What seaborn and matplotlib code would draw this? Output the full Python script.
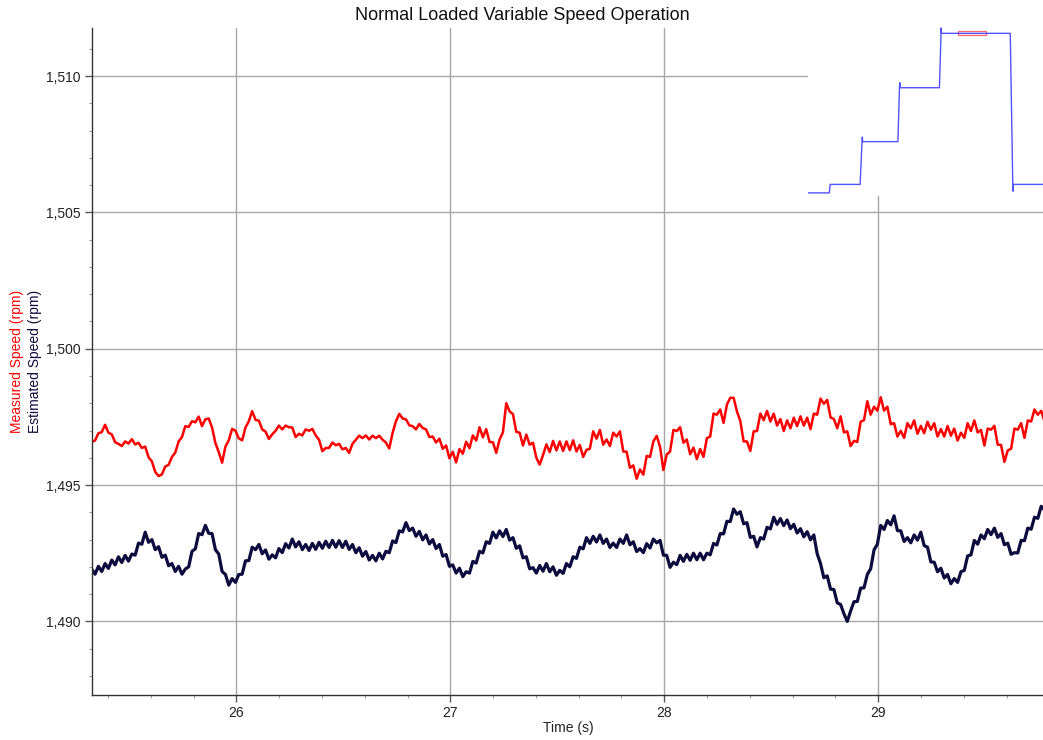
import numpy as np
import pandas as pd
import matplotlib
matplotlib.use("Agg")
import matplotlib.pyplot as plt
from matplotlib.ticker import MultipleLocator, FuncFormatter
from matplotlib.patches import Rectangle
import seaborn as sns

# ---------------- data ----------------
t_start = 25.324          # s, first sample shown
sample_rate = 64.0        # samples per second

measured_speed = [
    1496.59, 1496.63, 1496.90, 1496.94, 1497.21, 1496.92, 1496.86, 1496.57, 1496.51, 1496.43, 1496.60, 1496.52, 1496.68, 1496.49, 1496.55, 1496.36,
    1496.41, 1496.02, 1495.87, 1495.48, 1495.33, 1495.39, 1495.68, 1495.74, 1496.03, 1496.19, 1496.60, 1496.76, 1497.16, 1497.13, 1497.34, 1497.30,
    1497.51, 1497.16, 1497.41, 1497.44, 1497.11, 1496.54, 1496.21, 1495.82, 1496.41, 1496.64, 1497.06, 1496.99, 1496.71, 1496.64, 1497.11, 1497.34,
    1497.71, 1497.39, 1497.36, 1497.04, 1496.96, 1496.69, 1496.86, 1496.99, 1497.18, 1497.04, 1497.18, 1497.12, 1497.11, 1496.76, 1496.88, 1496.82,
    1497.04, 1496.99, 1497.06, 1496.82, 1496.66, 1496.24, 1496.36, 1496.36, 1496.56, 1496.46, 1496.51, 1496.31, 1496.36, 1496.18, 1496.51, 1496.66,
    1496.81, 1496.72, 1496.82, 1496.67, 1496.81, 1496.72, 1496.81, 1496.66, 1496.56, 1496.34, 1496.91, 1497.34, 1497.61, 1497.44, 1497.41, 1497.19,
    1497.16, 1497.04, 1497.24, 1497.09, 1497.04, 1496.76, 1496.78, 1496.56, 1496.70, 1496.33, 1496.45, 1495.98, 1496.22, 1495.83, 1496.32, 1496.15,
    1496.59, 1496.35, 1496.82, 1496.63, 1497.12, 1496.75, 1497.05, 1496.58, 1496.57, 1496.18, 1496.67, 1496.93, 1498.00, 1497.70, 1497.60, 1496.95,
    1496.92, 1496.45, 1496.85, 1496.48, 1496.55, 1496.00, 1495.75, 1496.10, 1496.49, 1496.21, 1496.62, 1496.27, 1496.60, 1496.25, 1496.60, 1496.28,
    1496.64, 1496.23, 1496.47, 1496.03, 1496.29, 1496.33, 1496.97, 1496.70, 1497.02, 1496.48, 1496.67, 1496.43, 1496.92, 1496.78, 1496.97, 1496.23,
    1496.22, 1495.63, 1495.72, 1495.23, 1495.57, 1495.38, 1496.07, 1496.03, 1496.60, 1496.80, 1496.40, 1495.55, 1496.12, 1496.23, 1497.02, 1496.98,
    1497.12, 1496.55, 1496.67, 1496.13, 1496.37, 1495.95, 1496.32, 1496.03, 1496.72, 1496.78, 1497.62, 1497.58, 1497.77, 1497.28, 1497.95, 1498.20,
    1498.20, 1497.70, 1497.35, 1496.60, 1496.60, 1496.25, 1496.97, 1496.98, 1497.62, 1497.38, 1497.72, 1497.33, 1497.62, 1497.18, 1497.42, 1496.98,
    1497.37, 1497.08, 1497.47, 1497.16, 1497.52, 1497.18, 1497.47, 1497.05, 1497.62, 1497.58, 1498.17, 1497.98, 1498.12, 1497.48, 1497.42, 1497.08,
    1497.52, 1496.93, 1496.97, 1496.43, 1496.62, 1496.58, 1497.32, 1497.38, 1498.07, 1497.58, 1497.87, 1497.73, 1498.22, 1497.73, 1497.87, 1497.23,
    1497.27, 1496.78, 1496.99, 1496.73, 1497.27, 1497.08, 1497.37, 1496.88, 1497.17, 1496.90, 1497.32, 1497.03, 1497.27, 1496.78, 1497.05, 1496.78,
    1497.17, 1496.81, 1497.07, 1496.63, 1496.92, 1496.73, 1497.27, 1496.98, 1497.37, 1496.93, 1497.02, 1496.45, 1497.07, 1497.03, 1497.17, 1496.48,
    1496.47, 1495.85, 1496.27, 1496.33, 1497.07, 1497.03, 1497.27, 1496.73, 1497.37, 1497.33, 1497.77, 1497.58, 1497.72, 1497.33,
]

estimated_speed = [
    1491.92, 1491.73, 1492.02, 1491.83, 1492.12, 1491.94, 1492.25, 1492.07, 1492.37, 1492.16, 1492.42, 1492.21, 1492.47, 1492.43, 1492.87, 1492.83,
    1493.27, 1492.90, 1493.00, 1492.63, 1492.74, 1492.35, 1492.43, 1492.04, 1492.12, 1491.83, 1492.02, 1491.73, 1491.92, 1492.00, 1492.57, 1492.66,
    1493.22, 1493.18, 1493.52, 1493.23, 1493.22, 1492.63, 1492.47, 1491.83, 1491.72, 1491.33, 1491.57, 1491.43, 1491.72, 1491.73, 1492.22, 1492.23,
    1492.72, 1492.63, 1492.82, 1492.48, 1492.62, 1492.28, 1492.44, 1492.33, 1492.67, 1492.52, 1492.85, 1492.69, 1493.02, 1492.73, 1492.92, 1492.63,
    1492.82, 1492.60, 1492.86, 1492.64, 1492.90, 1492.68, 1492.94, 1492.71, 1492.97, 1492.72, 1492.96, 1492.71, 1492.94, 1492.64, 1492.82, 1492.52,
    1492.70, 1492.39, 1492.56, 1492.25, 1492.42, 1492.22, 1492.50, 1492.29, 1492.57, 1492.52, 1492.95, 1492.89, 1493.32, 1493.28, 1493.62, 1493.33,
    1493.42, 1493.12, 1493.30, 1492.99, 1493.17, 1492.84, 1493.00, 1492.67, 1492.82, 1492.39, 1492.45, 1492.02, 1492.07, 1491.77, 1491.95, 1491.64,
    1491.82, 1491.77, 1492.20, 1492.14, 1492.57, 1492.51, 1492.92, 1492.86, 1493.27, 1493.06, 1493.32, 1493.11, 1493.37, 1492.98, 1493.07, 1492.68,
    1492.77, 1492.33, 1492.37, 1491.93, 1491.97, 1491.77, 1492.05, 1491.84, 1492.12, 1491.82, 1492.00, 1491.69, 1491.87, 1491.76, 1492.12, 1492.00,
    1492.37, 1492.31, 1492.72, 1492.66, 1493.07, 1492.86, 1493.12, 1492.91, 1493.17, 1492.86, 1493.02, 1492.71, 1492.87, 1492.71, 1493.02, 1492.86,
    1493.17, 1492.81, 1492.92, 1492.56, 1492.67, 1492.52, 1492.85, 1492.69, 1493.02, 1492.88, 1492.97, 1492.43, 1492.42, 1491.98, 1492.17, 1492.08,
    1492.42, 1492.20, 1492.46, 1492.24, 1492.50, 1492.26, 1492.50, 1492.26, 1492.50, 1492.44, 1492.86, 1492.80, 1493.22, 1493.21, 1493.67, 1493.66,
    1494.12, 1493.93, 1494.02, 1493.58, 1493.62, 1493.08, 1493.12, 1492.73, 1493.07, 1493.02, 1493.45, 1493.39, 1493.82, 1493.56, 1493.77, 1493.51,
    1493.72, 1493.40, 1493.56, 1493.24, 1493.40, 1493.10, 1493.29, 1492.99, 1493.17, 1492.48, 1492.12, 1491.60, 1491.67, 1491.18, 1491.17, 1490.68,
    1490.62, 1490.28, 1490.00, 1490.38, 1490.72, 1490.73, 1491.22, 1491.23, 1491.72, 1491.93, 1492.62, 1492.83, 1493.52, 1493.37, 1493.70, 1493.54,
    1493.87, 1493.33, 1493.32, 1492.93, 1493.07, 1492.88, 1493.17, 1492.98, 1493.27, 1492.78, 1492.72, 1492.18, 1492.17, 1491.82, 1491.95, 1491.59,
    1491.72, 1491.38, 1491.57, 1491.43, 1491.82, 1491.87, 1492.40, 1492.44, 1492.97, 1492.83, 1493.17, 1493.03, 1493.37, 1493.18, 1493.42, 1493.08,
    1493.22, 1492.81, 1492.87, 1492.46, 1492.52, 1492.51, 1492.97, 1492.96, 1493.42, 1493.38, 1493.82, 1493.78, 1494.22, 1494.08,
]

# overview (inset) trace of the whole run: time (s) and speed (rpm)
overview_time = [1.47, 4.85, 5.00, 9.75, 10.05, 10.10, 10.15, 15.75, 16.00, 16.05, 16.10,
                 22.35, 22.60, 22.62, 22.67, 33.60, 34.00, 34.05, 34.10, 38.90]
overview_speed = [520, 520, 572, 572, 834, 862, 834, 834, 1164, 1195, 1164,
                  1164, 1497, 1530, 1497, 1497, 572, 530, 572, 572]

x_ticks = [26, 27, 28, 29]
y_ticks = [1490, 1495, 1500, 1505, 1510]
x_limits = (25.324, 29.77)
y_limits = (1487.3, 1511.75)

title = "Normal Loaded Variable Speed Operation"
x_label = "Time (s)"
y_label_measured = "Measured Speed (rpm)"
y_label_estimated = "Estimated Speed (rpm)"

# ---------------- figure ----------------
sns.set_style("white")
plt.rcParams["font.family"] = ["Liberation Sans", "DejaVu Sans"]

W, H = 1043, 740
fig = plt.figure(figsize=(W / 100, H / 100), dpi=100)

def px_axes(left, top, right, bottom, **kw):
    return fig.add_axes([left / W, 1 - bottom / H, (right - left) / W, (bottom - top) / H], **kw)

ax = px_axes(91.7, 28.3, 1043, 695)

n = len(measured_speed)
time = t_start + np.arange(n) / sample_rate
df = pd.DataFrame({"time": time, "measured": measured_speed, "estimated": estimated_speed})

RED = "#ff0000"
NAVY = "#0c0c3e"
sns.lineplot(data=df, x="time", y="estimated", ax=ax, color=NAVY, linewidth=2.3,
             estimator=None, sort=False)
sns.lineplot(data=df, x="time", y="measured", ax=ax, color=RED, linewidth=1.8,
             estimator=None, sort=False)

ax.set_xlim(*x_limits)
ax.set_ylim(*y_limits)
ax.set_xticks(x_ticks)
ax.set_yticks(y_ticks)
ax.xaxis.set_minor_locator(MultipleLocator(0.2))
ax.yaxis.set_minor_locator(MultipleLocator(1))
ax.yaxis.set_major_formatter(FuncFormatter(lambda v, _: f"{v:,.0f}"))
ax.grid(True, which="major", color="#a8a8a8", linewidth=1.0)
ax.set_axisbelow(True)
for s in ("top", "right"):
    ax.spines[s].set_visible(False)
for s in ("left", "bottom"):
    ax.spines[s].set_color("#333333")
    ax.spines[s].set_linewidth(1.0)
ax.tick_params(which="major", direction="out", length=5, width=1, color="#555555",
               labelsize=10, labelcolor="#222222", pad=3, left=True, bottom=True)
ax.tick_params(which="minor", direction="out", length=2.5, width=0.8, color="#999999",
               left=True, bottom=True)
ax.set_xlabel("")
ax.set_ylabel("")

fig.text(522 / W, 1 - 16 / H, title, ha="center", va="center", fontsize=13, color="#111111")
fig.text(568 / W, 1 - 728 / H, x_label, ha="center", va="center", fontsize=10, color="#222222")
fig.text(17 / W, 1 - 361 / H, y_label_measured, rotation=90, ha="center", va="center",
         fontsize=10, color=RED)
fig.text(35 / W, 1 - 361 / H, y_label_estimated, rotation=90, ha="center", va="center",
         fontsize=10, color=NAVY)

# ---------------- overview inset ----------------
ins = px_axes(808, 26, 1043, 196)
ins.set_facecolor("white")
sns.lineplot(x=overview_time, y=overview_speed, ax=ins, color="#2626ff", linewidth=1.0,
             estimator=None, sort=False, alpha=0.8)
ins.set_xlim(1.47, 38.8)
ins.set_ylim(501, 1542)
ins.add_patch(Rectangle((x_limits[0], y_limits[0]), x_limits[1] - x_limits[0],
                        y_limits[1] - y_limits[0], fill=False, edgecolor="#ff6666", linewidth=0.9))
ins.set_xticks([])
ins.set_yticks([])
ins.set_xlabel("")
ins.set_ylabel("")
for s in ins.spines.values():
    s.set_visible(False)

fig.savefig("out.png", dpi=100)
